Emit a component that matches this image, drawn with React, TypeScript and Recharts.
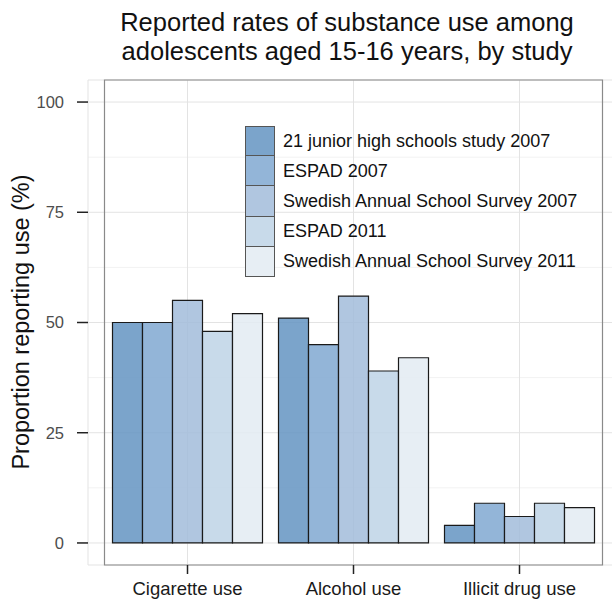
import React from "react";
import {
  BarChart,
  Bar,
  XAxis,
  YAxis,
  CartesianGrid,
  Legend,
  ReferenceArea,
} from "recharts";

const categories = ["Cigarette use", "Alcohol use", "Illicit drug use"];

const seriesNames = [
  "21 junior high schools study 2007",
  "ESPAD 2007",
  "Swedish Annual School Survey 2007",
  "ESPAD 2011",
  "Swedish Annual School Survey 2011",
];

// values, one per category
const juniorHigh2007 = [50, 51, 4];
const espad2007 = [50, 45, 9];
const swedish2007 = [55, 56, 6];
const espad2011 = [48, 39, 9];
const swedish2011 = [52, 42, 8];

const yTicks = [0, 25, 50, 75, 100];
const minorTicks = [12.5, 37.5, 62.5, 87.5];

// bar fills (drawn with a little alpha) and the solid legend keys
const barFills = ["#6494c2", "#80a8d1", "#a2bcda", "#bed3e6", "#e3ebf2"];
const keyFills = ["#7ba4cb", "#93b5d8", "#b0c6e0", "#c8daea", "#e7eef4"];

const seriesValues = [juniorHigh2007, espad2007, swedish2007, espad2011, swedish2011];
const keys = ["s0", "s1", "s2", "s3", "s4"];

const data = categories.map((name, i) => {
  const row: any = { name };
  seriesValues.forEach((vals, j) => {
    row[keys[j]] = vals[i];
  });
  return row;
});

const FONT = '"Liberation Sans", Arial, Helvetica, sans-serif';

function LegendBox() {
  return (
    <div style={{ fontFamily: FONT }}>
      {seriesNames.map((name, i) => (
        <div key={name} style={{ display: "flex", alignItems: "center", height: 30.2 }}>
          <div
            style={{
              width: 30,
              height: 30.2,
              boxSizing: "border-box",
              background: keyFills[i],
              border: "1px solid #555",
              borderTopWidth: i === 0 ? 1 : 0,
            }}
          />
          <span style={{ marginLeft: 8, fontSize: 18, color: "#111", whiteSpace: "nowrap" }}>
            {name}
          </span>
        </div>
      ))}
    </div>
  );
}

export default function App() {
  return (
    <div
      style={{
        position: "absolute",
        left: 0,
        top: 0,
        width: 612,
        height: 600,
        overflow: "hidden",
        background: "#fff",
        fontFamily: FONT,
      }}
    >
      <div
        style={{
          position: "absolute",
          left: 0,
          top: 8,
          width: 694,
          textAlign: "center",
          fontSize: 25.5,
          lineHeight: "29px",
          color: "#111",
        }}
      >
        Reported rates of substance use among
        <br />
        adolescents aged 15-16 years, by study
      </div>
      <div
        style={{
          position: "absolute",
          left: 21,
          top: 322,
          transform: "translate(-50%, -50%) rotate(-90deg)",
          fontSize: 23.5,
          color: "#111",
          whiteSpace: "nowrap",
        }}
      >
        Proportion reporting use (%)
      </div>
      <BarChart
        width={630}
        height={600}
        data={data}
        margin={{ top: 80, right: 11, bottom: 0, left: 28 }}
        barCategoryGap={8}
        barGap={0}
      >
        <CartesianGrid
          stroke="#f2f2f2"
          vertical={false}
          horizontalValues={minorTicks}
        />
        <CartesianGrid stroke="#e3e3e3" />
        <XAxis
          dataKey="name"
          height={35}
          padding={{ left: 16.5, right: 16.5 }}
          axisLine={false}
          tickLine={{ stroke: "#222", strokeWidth: 1.5 }}
          tickSize={9}
          tickMargin={8}
          tick={{ fill: "#1a1a1a", fontSize: 18.5, fontFamily: FONT }}
        />
        <YAxis
          type="number"
          domain={[-5, 105]}
          ticks={yTicks}
          width={60}
          axisLine={false}
          tickLine={{ stroke: "#222", strokeWidth: 1.5 }}
          tickSize={11}
          tickMargin={13}
          tick={{ fill: "#4d4d4d", fontSize: 16.5, fontFamily: FONT }}
        />
        {keys.map((k, i) => (
          <Bar
            key={k}
            dataKey={k}
            name={seriesNames[i]}
            fill={barFills[i]}
            fillOpacity={0.85}
            stroke="#1a1a1a"
            strokeWidth={1.2}
            isAnimationActive={false}
          />
        ))}
        <ReferenceArea
          y1={-5}
          y2={105}
          fill="none"
          fillOpacity={0}
          stroke="#8a8a8a"
          strokeWidth={1.2}
        />
        <Legend
          layout="vertical"
          align="center"
          verticalAlign="middle"
          wrapperStyle={{ left: 245, top: 126, width: 380 }}
          content={() => <LegendBox />}
        />
      </BarChart>
    </div>
  );
}
